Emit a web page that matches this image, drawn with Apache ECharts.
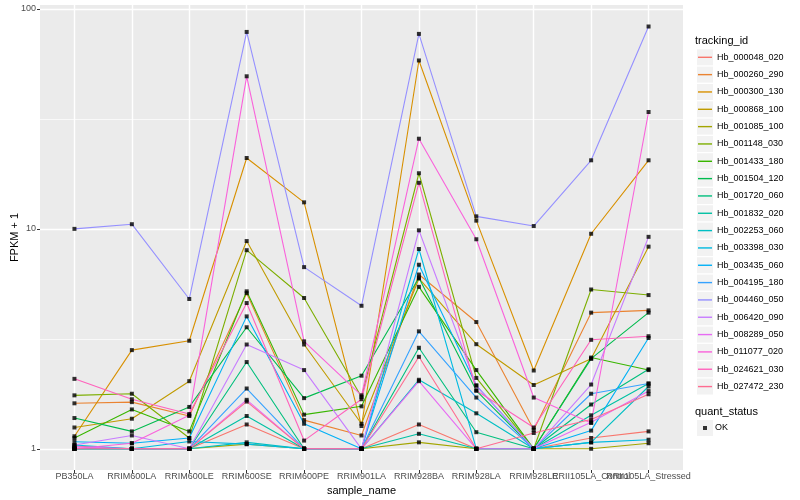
<!DOCTYPE html>
<html><head><meta charset="utf-8">
<script src="https://cdn.jsdelivr.net/npm/echarts@6/dist/echarts.min.js"></script>
<style>html,body{margin:0;padding:0;background:#fff}#c{width:800px;height:500px}</style>
</head><body><div id="c"></div>
<script>
const categories = ['PB350LA','RRIM600LA','RRIM600LE','RRIM600SE','RRIM600PE','RRIM901LA','RRIM928BA','RRIM928LA','RRIM928LE','RRII105LA_Control','RRII105LA_Stressed'];
const trackingIds = ['Hb_000048_020','Hb_000260_290','Hb_000300_130','Hb_000868_100','Hb_001085_100','Hb_001148_030','Hb_001433_180','Hb_001504_120','Hb_001720_060','Hb_001832_020','Hb_002253_060','Hb_003398_030','Hb_003435_060','Hb_004195_180','Hb_004460_050','Hb_006420_090','Hb_008289_050','Hb_011077_020','Hb_024621_030','Hb_027472_230'];
const colors = ['#F8766D','#EA8331','#D89000','#C09B00','#A3A500','#7CAE00','#39B600','#00BB4E','#00BF7D','#00C1A3','#00BFC4','#00BAE0','#00B0F6','#35A2FF','#9590FF','#C77CFF','#E76BF3','#FA62DB','#FF62BC','#FF6C91'];

// FPKM + 1, one value per sample (order of categories)
const Hb_000048_020 = [1.03, 1.00, 1.00, 1.29, 1.00, 1.00, 1.29, 1.00, 1.00, 1.12, 1.20];
const Hb_000260_290 = [1.61, 1.63, 1.41, 5.10, 1.35, 1.15, 6.20, 3.77, 1.22, 4.16, 4.26];
const Hb_000300_130 = [1.14, 2.81, 3.10, 21.0, 13.2, 1.27, 58.3, 10.9, 2.27, 9.50, 20.5];
const Hb_000868_100 = [1.25, 1.37, 2.03, 8.80, 2.98, 1.30, 5.95, 2.99, 1.95, 2.57, 8.30];
const Hb_001085_100 = [1.00, 1.00, 1.00, 1.05, 1.00, 1.00, 1.07, 1.00, 1.00, 1.00, 1.06];
const Hb_001148_030 = [1.75, 1.78, 1.12, 8.00, 4.85, 1.72, 17.9, 2.10, 1.00, 5.30, 5.00];
const Hb_001433_180 = [1.12, 1.51, 1.20, 5.20, 1.43, 1.56, 5.45, 2.28, 1.00, 2.60, 2.28];
const Hb_001504_120 = [1.38, 1.20, 1.55, 3.57, 1.70, 2.15, 6.00, 1.84, 1.00, 2.57, 4.16];
const Hb_001720_060 = [1.00, 1.00, 1.00, 2.48, 1.00, 1.00, 2.88, 1.19, 1.00, 1.59, 2.30];
const Hb_001832_020 = [1.00, 1.00, 1.00, 1.41, 1.00, 1.00, 1.17, 1.00, 1.00, 1.42, 1.98];
const Hb_002253_060 = [1.00, 1.00, 1.00, 1.07, 1.00, 1.00, 2.06, 1.45, 1.00, 1.07, 1.92];
const Hb_003398_030 = [1.04, 1.00, 1.08, 1.05, 1.00, 1.00, 8.10, 1.00, 1.00, 1.07, 1.10];
const Hb_003435_060 = [1.077, 1.06, 1.12, 4.00, 1.30, 1.00, 6.87, 1.94, 1.00, 1.21, 3.19];
const Hb_004195_180 = [1.00, 1.00, 1.00, 1.88, 1.00, 1.00, 3.42, 1.71, 1.00, 1.78, 1.98];
const Hb_004460_050 = [10.0, 10.5, 4.80, 78.6, 6.70, 4.47, 77.0, 11.4, 10.3, 20.5, 83.2];
const Hb_006420_090 = [1.04, 1.15, 1.00, 2.98, 2.28, 1.00, 9.85, 1.94, 1.00, 1.96, 9.20];
const Hb_008289_050 = [1.02, 1.00, 1.00, 1.67, 1.00, 1.00, 2.03, 1.00, 1.00, 1.32, 1.83];
const Hb_011077_020 = [1.00, 1.06, 1.42, 49.4, 3.08, 1.75, 25.7, 8.97, 1.71, 1.31, 34.0];
const Hb_024621_030 = [2.08, 1.68, 1.44, 4.60, 1.09, 1.68, 16.2, 1.84, 1.25, 3.13, 3.25];
const Hb_027472_230 = [1.00, 1.00, 1.00, 1.64, 1.00, 1.00, 2.62, 1.00, 1.18, 1.36, 1.77];

const seriesValues = [Hb_000048_020,Hb_000260_290,Hb_000300_130,Hb_000868_100,Hb_001085_100,Hb_001148_030,Hb_001433_180,Hb_001504_120,Hb_001720_060,Hb_001832_020,Hb_002253_060,Hb_003398_030,Hb_003435_060,Hb_004195_180,Hb_004460_050,Hb_006420_090,Hb_008289_050,Hb_011077_020,Hb_024621_030,Hb_027472_230];
const quantStatus = ['OK'];
const yTicks = [1, 10, 100];
const yMinorTicks = [3.1623, 31.623];
const xTicks = categories.map((c, i) => i);
const xLabelsEven = xTicks.filter(i => i % 2 === 0);
const xLabelsOdd = xTicks.filter(i => i % 2 === 1);

const FONT = 'Liberation Sans, Arial, Helvetica, sans-serif';
const chart = echarts.init(document.getElementById('c'), null, {renderer: 'canvas'});

const lineSeries = trackingIds.map((id, k) => ({
  name: id,
  type: 'line',
  data: seriesValues[k].map((v, i) => [i, v]),
  symbol: 'none',
  lineStyle: {color: colors[k], width: 1.1},
  itemStyle: {color: colors[k]},
  emphasis: {disabled: true},
  animation: false,
  z: 2
}));
const pointData = [];
seriesValues.forEach(arr => arr.forEach((v, i) => pointData.push([i, v])));
const pointSeries = {
  name: quantStatus[0], type: 'scatter', data: pointData,
  symbol: 'rect', symbolSize: 4, itemStyle: {color: '#000'},
  animation: false, z: 3, emphasis: {disabled: true}
};

const legendTop = 49.3, legendStep = 17.33;
const keyBoxes = trackingIds.map((id, k) => ({
  type: 'rect', left: 697, top: legendTop + k * legendStep,
  shape: {width: 16, height: 16}, style: {fill: '#F2F2F2'}, z: -1
}));
keyBoxes.push({type: 'rect', left: 697, top: 420, shape: {width: 16, height: 16}, style: {fill: '#F2F2F2'}, z: -1});

const xLabelStyle = {formatter: v => categories[Math.round(v)], fontSize: 9, color: '#4D4D4D', margin: 2, hideOverlap: false, fontFamily: FONT};

chart.setOption({
  backgroundColor: '#fff',
  animation: false,
  textStyle: {fontFamily: FONT},
  title: [
    {text: 'tracking_id', left: 695, top: 35, padding: 0, textStyle: {fontSize: 11, fontWeight: 'normal', color: '#000', fontFamily: FONT}},
    {text: 'quant_status', left: 695, top: 406, padding: 0, textStyle: {fontSize: 11, fontWeight: 'normal', color: '#000', fontFamily: FONT}}
  ],
  graphic: keyBoxes,
  grid: {left: 40, right: 117, top: 5, bottom: 30, show: true, backgroundColor: '#EBEBEB', borderWidth: 0, containLabel: false, outerBoundsMode: 'none'},
  xAxis: [{
    type: 'value', min: -0.6, max: 10.6, position: 'bottom', offset: 0,
    name: 'sample_name', nameLocation: 'middle', nameGap: 11,
    nameTextStyle: {fontSize: 11, color: '#000', fontFamily: FONT},
    axisLine: {show: false, onZero: false},
    axisTick: {show: true, customValues: xTicks, length: 3, lineStyle: {color: '#333', width: 1}},
    axisLabel: Object.assign({customValues: xLabelsEven}, xLabelStyle),
    splitLine: {show: true, lineStyle: {color: '#fff', width: 1.4}},
    minorSplitLine: {show: false}
  }, {
    type: 'value', min: -0.6, max: 10.6, position: 'bottom', offset: 0,
    axisLine: {show: false, onZero: false},
    axisTick: {show: false, customValues: xLabelsOdd},
    axisLabel: Object.assign({customValues: xLabelsOdd}, xLabelStyle),
    splitLine: {show: false}
  }],
  yAxis: [{
    type: 'log', logBase: 10, min: 0.801, max: 104.2, position: 'left',
    name: 'FPKM + 1', nameLocation: 'middle', nameGap: 20, nameRotate: 90, nameMoveOverlap: false,
    nameTextStyle: {fontSize: 11, color: '#000', fontFamily: FONT},
    axisLine: {show: false, onZero: false},
    axisTick: {show: true, customValues: yTicks, length: 3, lineStyle: {color: '#333', width: 1}},
    axisLabel: {customValues: yTicks, fontSize: 9, color: '#4D4D4D', margin: 4, fontFamily: FONT},
    splitLine: {show: true, lineStyle: {color: '#fff', width: 1.4}}
  }, {
    type: 'log', logBase: 10, min: 0.801, max: 104.2, position: 'left', offset: 0,
    axisLine: {show: false, onZero: false},
    axisTick: {show: false, customValues: yMinorTicks},
    axisLabel: {show: false, customValues: yMinorTicks},
    splitLine: {show: true, lineStyle: {color: '#fff', width: 0.7}}
  }],
  legend: [{
    data: trackingIds, orient: 'vertical', left: 698, top: legendTop, padding: 0,
    icon: 'rect', itemWidth: 14, itemHeight: 1.4, itemGap: legendStep - 16,
    textStyle: {fontSize: 9, lineHeight: 16, color: '#000', fontFamily: FONT},
    selectedMode: false
  }, {
    data: quantStatus, orient: 'vertical', left: 703, top: 420, padding: 0,
    itemWidth: 4, itemHeight: 4, itemGap: 0,
    textStyle: {fontSize: 9, lineHeight: 16, color: '#000', fontFamily: FONT, padding: [0, 0, 0, 3]},
    selectedMode: false
  }],
  series: lineSeries.concat([pointSeries])
});
</script></body></html>
